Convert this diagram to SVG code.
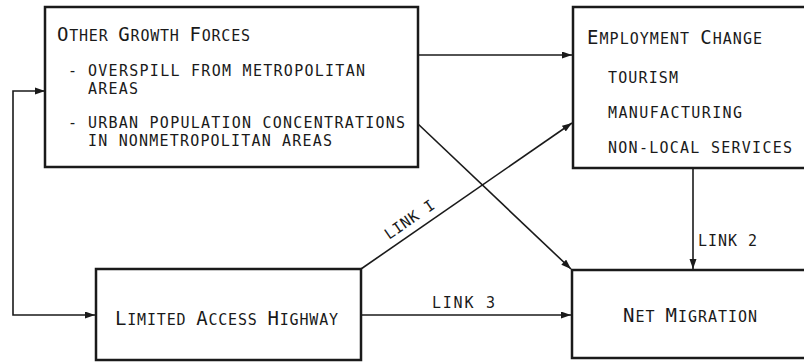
<svg xmlns="http://www.w3.org/2000/svg" width="804" height="362" viewBox="0 0 804 362">
<defs>
<marker id="arr" markerUnits="userSpaceOnUse" markerWidth="11" markerHeight="8" refX="10" refY="3.5" orient="auto">
<path d="M0,0 L10,3.5 L0,7 z" fill="#1a1a1a"/>
</marker>
<marker id="arrs" markerUnits="userSpaceOnUse" markerWidth="11" markerHeight="8" refX="0" refY="3.5" orient="auto">
<path d="M10,0 L0,3.5 L10,7 z" fill="#1a1a1a"/>
</marker>
</defs>
<style>
.box{fill:#fff;stroke:#1a1a1a;stroke-width:2.5}
.c{fill:none;stroke:#1a1a1a;stroke-width:1.6}
text{font-family:"DejaVu Sans Mono","Liberation Mono",monospace;fill:#1a1a1a}
.b{font-size:15px}
.t{font-size:15px}
.cap{font-size:19px}
</style>
<rect width="804" height="362" fill="#fff"/>
<g id="connectors">
<path class="c" d="M45,91 L13,91 L13,315 L95,315" marker-start="url(#arrs)" marker-end="url(#arr)"/>
<line class="c" x1="418" y1="55" x2="572" y2="55" marker-end="url(#arr)"/>
<line class="c" x1="417" y1="123" x2="571" y2="269" marker-end="url(#arr)"/>
<line class="c" x1="361" y1="269" x2="572" y2="123" marker-end="url(#arr)"/>
<line class="c" x1="693" y1="168" x2="693" y2="269" marker-end="url(#arr)"/>
<line class="c" x1="361" y1="315" x2="571" y2="315" marker-end="url(#arr)"/>
<text class="b" transform="translate(389,240) rotate(-34.7)" textLength="57" lengthAdjust="spacing">LINK I</text>
<text class="b" x="698" y="246" textLength="59" lengthAdjust="spacing">LINK 2</text>
<text class="b" x="432" y="308" textLength="63" lengthAdjust="spacing">LINK 3</text>
</g>
<g id="other-growth-forces">
<rect class="box" x="45" y="7" width="373" height="160"/>
<text class="t" x="57" y="41" textLength="193" lengthAdjust="spacing"><tspan class="cap">O</tspan>THER <tspan class="cap">G</tspan>ROWTH <tspan class="cap">F</tspan>ORCES</text>
<text class="b" x="68" y="76">-</text>
<text class="b" x="88" y="76" textLength="277" lengthAdjust="spacing">OVERSPILL FROM METROPOLITAN</text>
<text class="b" x="88" y="94" textLength="50" lengthAdjust="spacing">AREAS</text>
<text class="b" x="68" y="128">-</text>
<text class="b" x="88" y="128" textLength="317" lengthAdjust="spacing">URBAN POPULATION CONCENTRATIONS</text>
<text class="b" x="88" y="146" textLength="244" lengthAdjust="spacing">IN NONMETROPOLITAN AREAS</text>
</g>
<g id="employment-change">
<rect class="box" x="573" y="7" width="250" height="161"/>
<text class="t" x="587" y="44" textLength="175" lengthAdjust="spacing"><tspan class="cap">E</tspan>MPLOYMENT <tspan class="cap">C</tspan>HANGE</text>
<text class="b" x="608" y="83" textLength="70" lengthAdjust="spacing">TOURISM</text>
<text class="b" x="608" y="118" textLength="134" lengthAdjust="spacing">MANUFACTURING</text>
<text class="b" x="608" y="153" textLength="184" lengthAdjust="spacing">NON-LOCAL SERVICES</text>
</g>
<g id="limited-access-highway">
<rect class="box" x="96" y="269" width="265" height="91"/>
<text class="t" x="115" y="325" textLength="223" lengthAdjust="spacing"><tspan class="cap">L</tspan>IMITED <tspan class="cap">A</tspan>CCESS <tspan class="cap">H</tspan>IGHWAY</text>
</g>
<g id="net-migration">
<rect class="box" x="572" y="270" width="250" height="88"/>
<text class="t" x="623" y="322" textLength="134" lengthAdjust="spacing"><tspan class="cap">N</tspan>ET <tspan class="cap">M</tspan>IGRATION</text>
</g>
</svg>
